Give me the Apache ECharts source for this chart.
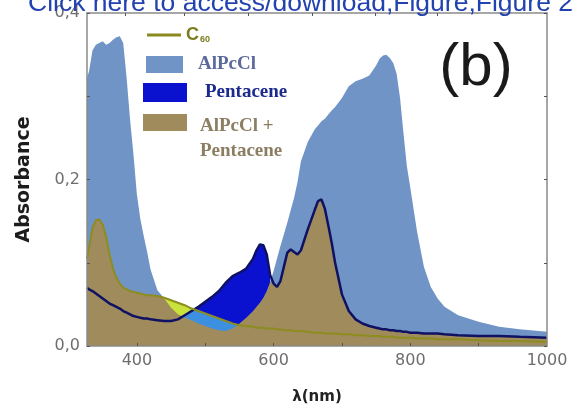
<!DOCTYPE html>
<html><head><meta charset="utf-8">
<script src="https://cdn.jsdelivr.net/npm/echarts@6/dist/echarts.min.js"></script>
<style>html,body{margin:0;padding:0;background:#fff}#c{width:573px;height:410px}</style>
</head><body><div id="c"></div>
<script>
// wavelength grid (nm)
const wavelengths = [327,330,335,340,345,350,355,360,365,370,375,380,385,390,395,400,405,410,415,420,430,440,450,460,470,480,490,500,510,520,530,540,550,560,570,575,580,585,590,595,600,605,610,615,620,625,630,635,640,650,660,665,670,675,680,685,690,700,710,720,730,740,750,755,760,765,770,775,780,785,790,795,800,810,820,830,840,850,870,900,930,960,1000];
// AlPcCl absorbance (steel-blue fill)
const alpccl = [0.322,0.330,0.355,0.362,0.364,0.366,0.362,0.364,0.368,0.371,0.372,0.364,0.322,0.272,0.230,0.182,0.153,0.132,0.113,0.092,0.067,0.057,0.046,0.038,0.034,0.031,0.027,0.024,0.021,0.019,0.018,0.021,0.027,0.034,0.042,0.047,0.052,0.058,0.066,0.077,0.090,0.105,0.120,0.134,0.148,0.163,0.178,0.197,0.222,0.245,0.260,0.265,0.270,0.273,0.278,0.283,0.287,0.298,0.312,0.318,0.321,0.325,0.337,0.345,0.349,0.350,0.346,0.340,0.327,0.298,0.256,0.216,0.190,0.137,0.095,0.071,0.057,0.047,0.037,0.029,0.023,0.020,0.017];
// C60 absorbance (olive line)
const c60 = [0.105,0.118,0.142,0.151,0.152,0.146,0.131,0.110,0.093,0.082,0.075,0.070,0.068,0.066,0.065,0.064,0.063,0.062,0.061,0.061,0.060,0.058,0.055,0.052,0.049,0.045,0.042,0.039,0.036,0.033,0.030,0.027,0.025,0.024,0.023,0.022,0.022,0.022,0.021,0.021,0.021,0.020,0.020,0.019,0.019,0.019,0.018,0.018,0.018,0.017,0.016,0.016,0.016,0.015,0.015,0.015,0.015,0.014,0.014,0.013,0.013,0.012,0.012,0.012,0.011,0.011,0.011,0.011,0.010,0.010,0.010,0.010,0.010,0.009,0.009,0.009,0.008,0.008,0.008,0.007,0.006,0.006,0.005];
// AlPcCl + Pentacene absorbance (navy line)
const mix = [0.070,0.068,0.066,0.063,0.060,0.057,0.054,0.051,0.049,0.047,0.045,0.042,0.040,0.038,0.036,0.035,0.034,0.033,0.033,0.032,0.031,0.030,0.030,0.032,0.037,0.042,0.047,0.053,0.059,0.066,0.076,0.084,0.088,0.093,0.105,0.115,0.122,0.121,0.110,0.085,0.075,0.071,0.078,0.095,0.112,0.116,0.113,0.110,0.115,0.140,0.163,0.174,0.176,0.165,0.145,0.124,0.100,0.062,0.042,0.032,0.027,0.024,0.022,0.021,0.020,0.020,0.019,0.019,0.018,0.018,0.017,0.017,0.016,0.016,0.015,0.015,0.015,0.014,0.013,0.012,0.012,0.011,0.010];
// Pentacene band (blue fill), only in its absorption range
const pentacene = [null,null,null,null,null,null,null,null,null,null,null,null,null,null,null,null,null,null,null,null,null,null,null,null,null,0.042,0.047,0.053,0.059,0.066,0.076,0.084,0.088,0.093,0.105,0.115,0.122,0.121,0.110,0.085,null,null,null,null,null,null,null,null,null,null,null,null,null,null,null,null,null,null,null,null,null,null,null,null,null,null,null,null,null,null,null,null,null,null,null,null,null,null,null,null,null,null,null];
const xLabelValues = [400, 600, 800, 1000];
const xTickValues = [400, 500, 600, 700, 800, 900];
const topTickValues = [383, 470, 563, 656, 748, 839];

const pairs = ys => wavelengths.map((x, i) => [x, ys[i]]);
const lightBlueTop = wavelengths.map((x, i) => [x, Math.min(c60[i], mix[i])]);
const khakiTop = wavelengths.map((x, i) => [x, Math.min(alpccl[i], Math.max(c60[i], mix[i]))]);

const areaSeries = (name, data, color) => ({
  name, type: 'line', data, symbol: 'none', showSymbol: false, silent: true,
  color, lineStyle: { width: 0, opacity: 0 }, areaStyle: { color, opacity: 1 }
});

const chart = echarts.init(document.getElementById('c'), null, { renderer: 'canvas' });
const gray = '#8a8a8a';
const tickFont = { fontFamily: 'DejaVu Sans', fontSize: 16, color: '#6e6e6e' };
const serifBold = { fontFamily: 'Liberation Serif', fontWeight: 'bold', fontSize: 19 };
chart.setOption({
  animation: false,
  backgroundColor: '#fff',
  grid: { left: 87, right: 26, top: 13, bottom: 63, show: false },
  xAxis: [{
    type: 'value', min: 327, max: 1000, position: 'bottom', z: 5,
    axisLine: { show: true, onZero: false, lineStyle: { color: gray, width: 1.5 } },
    axisTick: { show: true, inside: true, length: 3, customValues: xTickValues, lineStyle: { color: '#555' } },
    axisLabel: Object.assign({ margin: 7, customValues: xLabelValues, formatter: v => String(v) }, tickFont),
    splitLine: { show: false },
    name: 'λ(nm)', nameLocation: 'middle', nameGap: 44,
    nameTextStyle: { fontFamily: 'DejaVu Sans', fontWeight: 'bold', fontSize: 15, color: '#222' }
  }, {
    type: 'value', min: 327, max: 1000, position: 'top', z: 5,
    axisLine: { show: true, onZero: false, lineStyle: { color: gray, width: 1.5 } },
    axisTick: { show: true, inside: true, length: 3, customValues: topTickValues, lineStyle: { color: '#555' } },
    axisLabel: { show: false }, splitLine: { show: false }
  }],
  yAxis: [{
    type: 'value', min: 0, max: 0.4, interval: 0.1, position: 'left', z: 5,
    axisLine: { show: true, onZero: false, lineStyle: { color: gray, width: 1.5 } },
    axisTick: { show: true, inside: true, length: 3, lineStyle: { color: '#555' } },
    axisLabel: Object.assign({ margin: 7, formatter: v => { const r = Math.round(v * 10); return r % 2 === 0 ? (r / 10).toFixed(1).replace('.', ',') : ''; } }, tickFont),
    splitLine: { show: false },
    name: 'Absorbance', nameLocation: 'middle', nameGap: 53, nameRotate: 90,
    nameTextStyle: { fontFamily: 'DejaVu Sans', fontWeight: 'bold', fontSize: 19, color: '#1c1c1c' }
  }, {
    type: 'value', min: 0, max: 0.4, interval: 0.1, position: 'right', z: 5,
    axisLine: { show: true, onZero: false, lineStyle: { color: gray, width: 1.5 } },
    axisTick: { show: true, inside: true, length: 3, lineStyle: { color: '#555' } },
    axisLabel: { show: false }, splitLine: { show: false }
  }],
  legend: [
    { data: [{ name: 'C60', icon: 'rect', itemStyle: { color: '#8a8a1f' } }], selectedMode: false, left: 147, top: 26, padding: 0,
      itemWidth: 34, itemHeight: 3,
      formatter: () => '{c|C}{s|60}',
      textStyle: { rich: {
        c: { fontFamily: 'Liberation Sans', fontWeight: 'bold', fontSize: 18, color: '#7b7b1e' },
        s: { fontFamily: 'Liberation Sans', fontWeight: 'bold', fontSize: 9, color: '#7b7b1e', verticalAlign: 'bottom', padding: [10, 0, 0, 1] }
      } } },
    { data: [{ name: 'AlPcCl', icon: 'rect', itemStyle: { color: '#7194c7' } }], selectedMode: false, left: 146, top: 55, padding: 0,
      itemWidth: 37, itemHeight: 17,
      textStyle: Object.assign({ color: '#5b6a9a', padding: [0, 0, 0, 10] }, serifBold) },
    { data: [{ name: 'Pentacene', icon: 'rect', itemStyle: { color: '#0b12cf' } }], selectedMode: false, left: 143, top: 83, padding: 0,
      itemWidth: 44, itemHeight: 19,
      textStyle: Object.assign({ color: '#1c2a8e', padding: [0, 0, 0, 13] }, serifBold) },
    { data: [{ name: 'AlPcCl + Pentacene', icon: 'rect', itemStyle: { color: '#9f8b5c' } }], selectedMode: false, left: 143, top: 88.5, padding: 0,
      itemWidth: 44, itemHeight: 17,
      formatter: () => '{e| }\n{t|AlPcCl +}\n{t|Pentacene}',
      textStyle: { padding: [0, 0, 0, 8], rich: {
        e: Object.assign({ lineHeight: 32, color: '#8c7e63' }, serifBold),
        t: Object.assign({ lineHeight: 24.5, color: '#8c7e63' }, serifBold)
      } } }
  ],
  graphic: [
    { type: 'text', x: 28, y: 4, z: 100, style: { text: 'Click here to access/download;Figure;Figure 2', font: '26.5px "Liberation Sans"', fill: '#2242b0', verticalAlign: 'middle', align: 'left' } },
    { type: 'text', x: 476, y: 68, z: 100, style: { text: '(b)', font: '60px "Liberation Sans"', fill: '#1a1a1a', verticalAlign: 'middle', align: 'center' } }
  ],
  series: [
    areaSeries('AlPcCl', pairs(alpccl), '#7194c7'),
    areaSeries('C60 region', pairs(c60), '#c9e23c'),
    areaSeries('Pentacene', pairs(pentacene), '#0b12cf'),
    areaSeries('overlap', lightBlueTop, '#3d8fe0'),
    areaSeries('AlPcCl + Pentacene', khakiTop, '#9f8b5c'),
    { name: 'AlPcCl + Pentacene curve', type: 'line', data: pairs(mix), symbol: 'none', silent: true,
      lineStyle: { color: '#0f1262', width: 2.5 }, color: '#0f1262' },
    { name: 'C60', type: 'line', data: pairs(c60), symbol: 'none', silent: true,
      lineStyle: { color: '#8d8d1f', width: 2 }, color: '#8d8d1f' }
  ]
});
</script></body></html>
